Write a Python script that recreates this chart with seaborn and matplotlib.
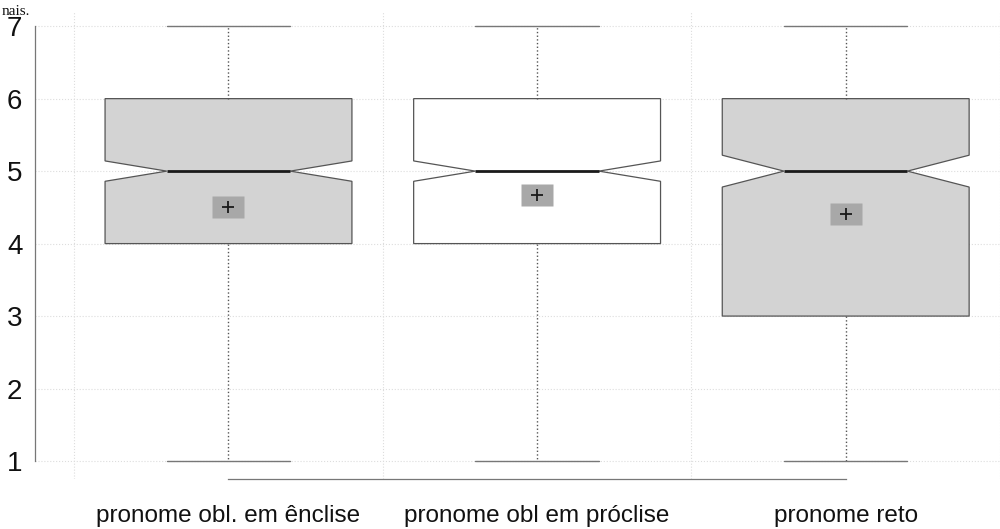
import numpy as np
import pandas as pd
import matplotlib
matplotlib.use('Agg')
import matplotlib.pyplot as plt
import seaborn as sns

# Likert responses (1..7) and how many answers each group gave per level
levels = [1, 2, 3, 4, 5, 6, 7]
groups = ['pronome obl. em ênclise', 'pronome obl em próclise', 'pronome reto']
counts_enclise = [55, 30, 35, 100, 105, 120, 55]
counts_proclise = [35, 30, 40, 100, 110, 125, 60]
counts_reto = [40, 45, 65, 55, 105, 90, 60]
box_colors = ['#d3d3d3', '#ffffff', '#d3d3d3']

frames = []
for g, c in zip(groups, [counts_enclise, counts_proclise, counts_reto]):
    frames.append(pd.DataFrame({'group': g, 'score': np.repeat(levels, c)}))
df = pd.concat(frames, ignore_index=True)
means = df.groupby('group', sort=False)['score'].mean().reset_index()

sns.set_style('white')
plt.rcParams['font.family'] = ['Liberation Sans', 'DejaVu Sans']

fig = plt.figure(figsize=(10, 5.29), dpi=100)
ax = fig.add_axes([0.035, 0.0945, 0.965, 0.8825])

rect = [(-1.5, -1), (1.5, -1), (1.5, 1), (-1.5, 1), (-1.5, -1)]
sns.boxplot(data=df, x='group', y='score', hue='group', palette=box_colors,
            legend=False, notch=True, width=0.8, linecolor='#555555',
            linewidth=0.9, saturation=1, showmeans=True, ax=ax,
            whiskerprops={'linestyle': ':', 'color': '#555555', 'linewidth': 1.0},
            capprops={'color': '#777777', 'linewidth': 1.0},
            medianprops={'color': '#1a1a1a', 'linewidth': 2.0},
            meanprops={'marker': rect, 'markersize': 23,
                       'markerfacecolor': '#a8a8a8', 'markeredgecolor': 'none'})

# the black "+" sitting on top of the mean box
sns.scatterplot(data=means, x='group', y='score', marker='+', s=80,
                color='#1a1a1a', linewidth=1.3, zorder=10, ax=ax, legend=False)

ax.set_xlim(-0.627, 2.491)
ax.set_ylim(0.752, 7.193)
ax.set_yticks([1, 2, 3, 4, 5, 6, 7])
ax.set_xticks([0, 1, 2])
ax.set_xticklabels(groups)
ax.set_xticks([-0.5, 0.5, 1.5, 2.5], minor=True)
ax.set_xlabel('')
ax.set_ylabel('')

ax.grid(axis='y', which='major', color='#dddddd', linestyle=':', linewidth=0.8)
ax.grid(axis='x', which='minor', color='#dddddd', linestyle=':', linewidth=0.8)
ax.set_axisbelow(True)

sns.despine(ax=ax, trim=True)
for s in ['left', 'bottom']:
    ax.spines[s].set_color('#777777')
    ax.spines[s].set_linewidth(0.9)

ax.tick_params(axis='y', which='major', length=5, width=0.9, color='#777777',
               labelsize=20, pad=4, labelcolor='#111111')
ax.tick_params(axis='x', which='major', length=6, width=0.9, color='#777777',
               labelsize=17.5, pad=13, labelcolor='#111111')
ax.tick_params(axis='x', which='minor', length=0)

# fragment of the surrounding document text above the figure
fig.text(0.002, 0.9716, 'nais.', fontsize=11, family=['Liberation Serif'],
         va='baseline', ha='left', color='#111111')

fig.savefig('out.png', dpi=100)
